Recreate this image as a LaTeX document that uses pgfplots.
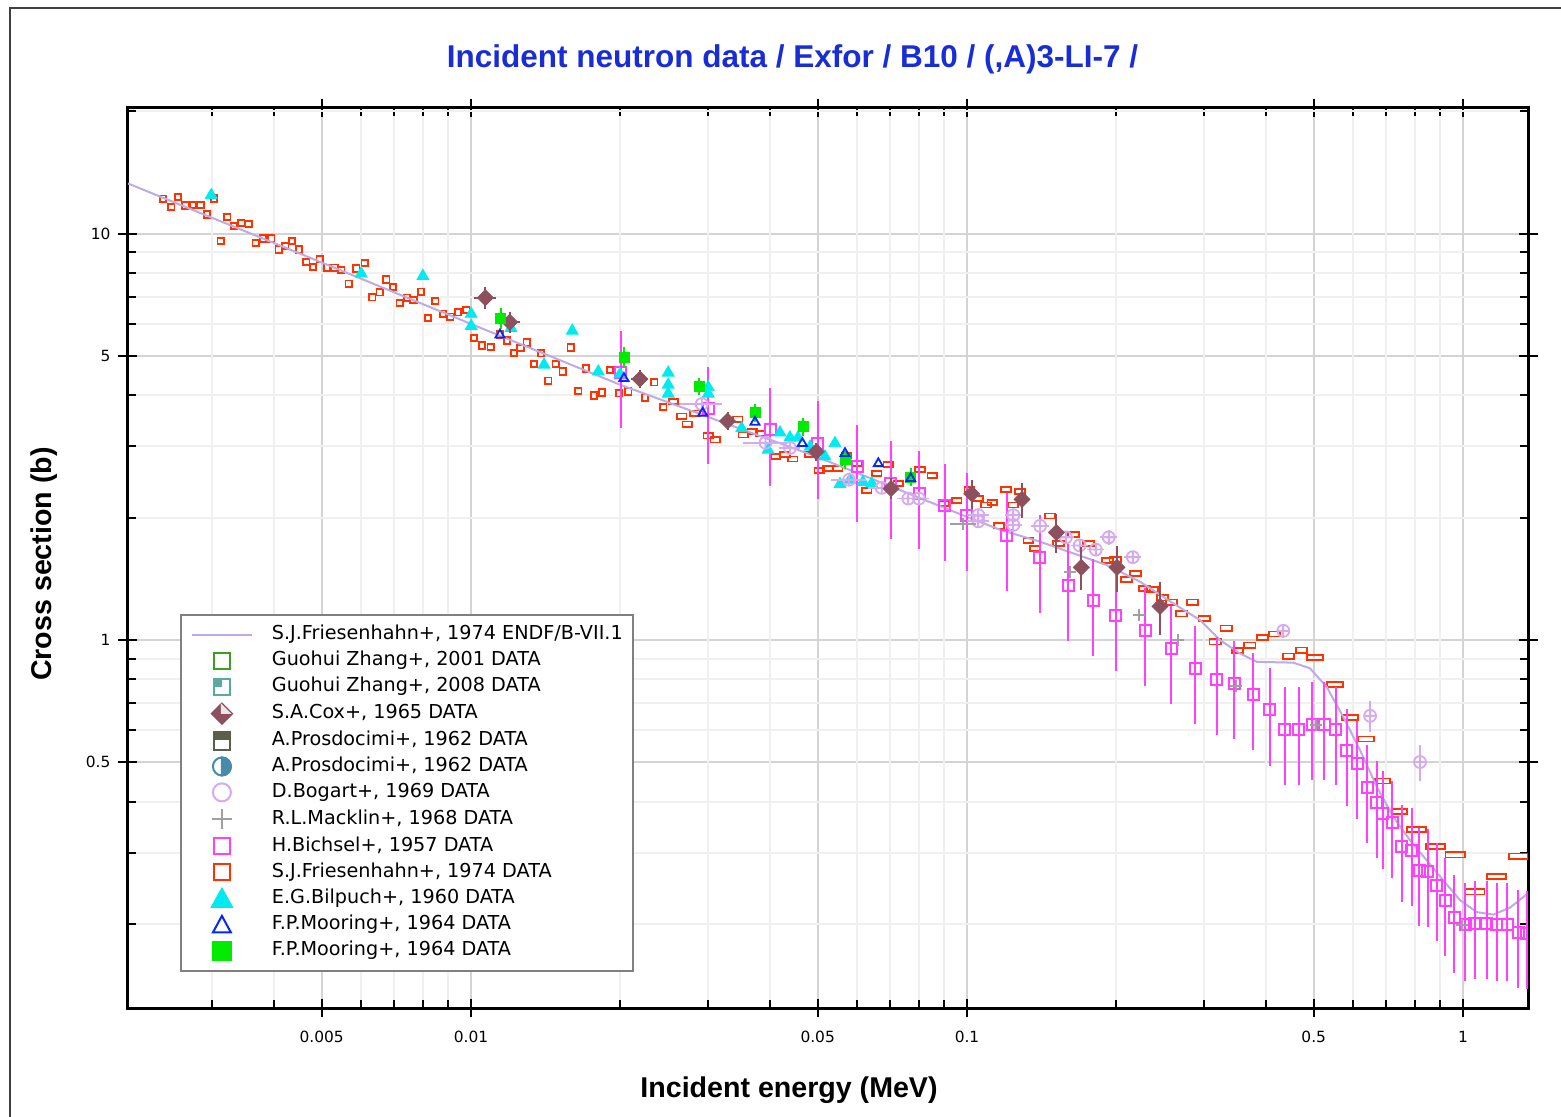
\documentclass[border=0pt]{standalone}
\usepackage{pgfplots}
\usepackage{pgfplotstable}
\pgfplotsset{compat=1.18}
\usepackage{fontspec}
\setmainfont{DejaVu Sans}
\newfontfamily\arialfont{Liberation Sans}

\definecolor{endf}{RGB}{190,170,230}
\definecolor{fries}{RGB}{255,51,0}
\definecolor{bich}{RGB}{255,64,255}
\definecolor{bilp}{RGB}{0,235,240}
\definecolor{moorb}{RGB}{0,40,255}
\definecolor{moorg}{RGB}{0,235,0}
\definecolor{cox}{RGB}{140,80,95}
\definecolor{bog}{RGB}{215,170,240}
\definecolor{mack}{RGB}{160,160,160}
\definecolor{zhA}{RGB}{60,160,30}
\definecolor{zhB}{RGB}{90,170,160}
\definecolor{pros}{RGB}{90,95,75}
\definecolor{prosc}{RGB}{70,140,170}
\definecolor{ttl}{RGB}{25,45,215}

% S.J.Friesenhahn+ 1974 data, split by bin width (drawn as wider boxes)
\pgfplotstableread{
E s
0.002393 12.2
0.002488 11.65
0.002566 12.33
0.002655 11.74
0.002752 11.77
0.002851 11.77
0.002939 11.16
0.003034 12.22
0.003129 9.59
0.003227 11.01
0.003329 10.45
0.003443 10.64
0.003563 10.56
0.003681 9.50
0.003807 9.74
0.003957 9.74
0.004096 9.15
0.004224 9.33
0.004357 9.59
0.004498 9.15
0.004656 8.53
0.004803 8.28
0.004955 8.65
0.005126 8.25
0.005311 8.25
0.005476 8.14
0.005667 7.54
0.005871 8.21
0.006104 8.48
0.006324 6.98
0.006545 7.18
0.006749 7.72
0.006962 7.40
0.007182 6.76
0.00743 6.96
0.007663 6.87
0.007929 7.20
0.00819 6.21
0.008472 6.83
0.008781 6.36
0.009084 6.25
0.009414 6.41
0.009784 6.49
0.01014 5.54
0.01052 5.31
0.01096 5.26
0.01143 5.65
0.01182 5.46
0.0122 5.09
0.01259 5.24
0.01295 5.40
0.01339 4.78
0.01384 5.08
0.01432 4.35
0.01482 4.78
0.01531 4.58
0.01589 5.25
0.01646 4.10
0.01706 4.66
0.0177 4.00
0.01839 4.07
0.01906 4.62
0.01988 4.05
0.02076 4.09
0.02243 3.95
0.02343 4.31
0.02442 3.75
}\friesA
\pgfplotstableread{
E s
0.0256 3.86
0.0266 3.56
0.0273 3.40
0.02829 3.62
0.03009 3.18
0.03109 3.11
0.03449 3.50
0.0354 3.20
0.03691 3.26
0.03838 3.23
0.04113 2.83
0.04295 2.86
0.04453 2.79
0.04826 2.86
0.05038 2.61
0.05237 2.64
0.05486 2.64
0.05721 2.84
0.05991 2.72
0.06276 2.33
0.06577 2.57
0.06939 2.70
0.07268 2.43
0.08038 2.63
0.08511 2.54
0.09 2.17
0.09533 2.21
0.1011 2.35
0.1054 2.23
0.1092 2.15
0.1125 2.18
0.116 1.91
0.1199 2.35
0.124 2.15
0.1279 2.32
0.1329 1.76
0.1371 1.68
0.147 2.02
}\friesB
\pgfplotstableread{
E s
0.1528 1.73
0.1638 1.82
0.1757 1.73
0.1922 1.57
0.1988 1.58
0.2099 1.41
0.2188 1.46
0.2278 1.34
0.2367 1.33
0.2476 1.27
0.2587 1.24
0.2709 1.16
0.2851 1.24
0.3005 1.13
0.3162 0.99
0.3328 1.07
0.3513 0.941
0.372 0.972
0.3938 1.013
0.4165 1.035
0.4444 0.913
0.4729 0.945
}\friesC
\pgfplotstableread{
E s
0.503 0.906
0.5519 0.778
0.5918 0.645
0.6374 0.571
0.6876 0.450
0.7437 0.378
}\friesD
\pgfplotstableread{
E s
0.8065 0.342
0.881 0.310
0.9636 0.296
1.057 0.240
1.169 0.262
1.293 0.294
}\friesE

% H.Bichsel+ 1957
\pgfplotstableread{
E s
0.02003 4.55
0.03009 3.71
0.04008 3.29
0.05006 3.05
0.06009 2.67
0.07019 2.43
0.08013 2.30
0.09028 2.14
0.09986 2.03
0.1202 1.81
0.1402 1.60
0.16 1.36
0.1799 1.25
0.1995 1.15
0.2285 1.055
0.2578 0.954
0.2882 0.853
0.3187 0.802
0.3459 0.782
0.3777 0.733
0.4076 0.673
0.437 0.603
0.4667 0.603
0.4961 0.621
0.5251 0.621
0.5541 0.603
0.583 0.534
0.612 0.497
0.6414 0.434
0.6705 0.398
0.6888 0.374
0.7204 0.355
0.7523 0.310
0.788 0.304
0.8164 0.271
0.8488 0.270
0.8857 0.249
0.9207 0.229
0.96 0.208
1.01 0.199
1.057 0.2006
1.116 0.2006
1.169 0.199
1.228 0.199
1.293 0.191
1.344 0.1895
}\bichsel

% E.G.Bilpuch+ 1960
\pgfplotstableread{
E s
0.002995 12.45
0.006009 7.98
0.008 7.87
0.01001 6.35
0.01001 5.93
0.01204 5.86
0.01404 4.76
0.016 5.77
0.01806 4.58
0.01997 4.51
0.02498 4.55
0.02498 4.25
0.02498 4.04
0.03009 4.19
0.03009 4.04
0.03513 3.32
0.03972 2.94
0.04198 3.24
0.04396 3.15
0.04563 3.15
0.04826 2.99
0.05172 2.83
0.05418 3.05
0.05546 2.42
0.05808 2.48
0.06169 2.45
0.06427 2.43
}\bilpuch

% S.A.Cox+ 1965
\pgfplotstableread{
E s ex ey
0.01069 6.96 0.05 0.06
0.01197 6.06 0.05 0.06
0.02191 4.39 0.04 0.05
0.0329 3.46 0 0.05
0.04969 2.91 0 0.05
0.07028 2.36 0 0.06
0.1022 2.29 0 0.08
0.1291 2.22 0 0.10
0.1514 1.84 0 0.11
0.17 1.51 0 0.12
0.2006 1.51 0 0.13
0.2449 1.21 0 0.15
}\cox

% D.Bogart+ 1969
\pgfplotstableread{
E s ex ey
0.02918 3.81 0.10 0.02
0.03926 3.06 0.10 0.02
0.04396 2.97 0.05 0.02
0.05782 2.48 0.08 0.02
0.0673 2.37 0.06 0.02
0.07616 2.23 0.05 0.02
0.08 2.23 0.05 0.02
0.1054 2.03 0.05 0.03
0.1054 1.96 0.05 0.03
0.124 2.03 0.04 0.03
0.124 1.92 0.04 0.03
0.1404 1.91 0.04 0.03
0.1583 1.79 0.04 0.03
0.1687 1.71 0.04 0.03
0.1818 1.67 0.04 0.03
0.1931 1.79 0.04 0.04
0.2159 1.60 0.04 0.03
0.4342 1.054 0.02 0.04
0.6496 0.651 0.02 0.09
0.819 0.501 0.02 0.10
}\bogart

% R.L.Macklin+ 1968
\pgfplotstableread{
E s ex
0.09829 1.93 0.06
0.1613 1.47 0.02
0.2226 1.15 0.02
0.2667 1.0 0.02
0.3485 0.770 0.02
0.5047 0.618 0.02
0.994 0.1994 0.02
}\macklin

% F.P.Mooring+ 1964 (filled squares)
\pgfplotstableread{
E s ey
0.01149 6.20 0.06
0.02034 4.96 0.06
0.02886 4.21 0.05
0.03737 3.63 0.05
0.04677 3.35 0.05
0.05676 2.78 0.05
0.07701 2.52 0.05
}\mooringG

% F.P.Mooring+ 1964 (open triangles)
\pgfplotstableread{
E s
0.01144 5.64
0.02034 4.41
0.02932 3.62
0.03737 3.44
0.04656 3.05
0.05676 2.88
0.06626 2.72
0.07701 2.50
}\mooringB

\begin{document}
\begin{tikzpicture}
\path[use as bounding box] (0pt,0pt) rectangle (780.5pt,558.5pt);
\draw[line width=0.8pt,black!75] (5pt,0pt) -- (5pt,554.5pt) -- (780.5pt,554.5pt);
\begin{axis}[
    at={(64pt,54.5pt)}, anchor=south west,
    scale only axis, width=700pt, height=450pt,
    xmode=log, ymode=log,
    xmin=0.002035, xmax=1.352, ymin=0.1243, ymax=20.4,
    axis line style={line width=1.5pt},
    tick align=center, major tick length=9.5pt,
    tick style={black, line width=1pt},
    xtick={0.005,0.01,0.05,0.1,0.5,1},
    xticklabels={0.005,0.01,0.05,0.1,0.5,1},
    ytick={0.5,1,5,10},
    yticklabels={0.5,1,5,10},
    extra x ticks={0.003,0.004,0.006,0.007,0.008,0.009,0.02,0.03,0.04,0.06,0.07,0.08,0.09,0.2,0.3,0.4,0.6,0.7,0.8,0.9},
    extra x tick labels={},
    extra y ticks={0.2,0.3,0.4,0.6,0.7,0.8,0.9,2,3,4,6,7,8,9,20},
    extra y tick labels={},
    extra tick style={tick align=inside, major tick length=4.25pt,
        major grid style={draw=black!6, line width=1pt}},
    grid=major, major grid style={draw=black!17, line width=1pt},
    tick label style={font=\fontsize{7.7}{9}\selectfont},
    xticklabel style={yshift=-3.2pt},
    yticklabel style={xshift=-0.5pt},
    clip marker paths=true,
    legend style={at={(0.0371,0.4378)}, anchor=north west,
        draw=black!50, line width=1pt, fill=white,
        inner xsep=5pt, inner ysep=5pt, column sep=9.5pt, row sep=2.95pt,
        font=\fontsize{9.6}{11}\selectfont,
        nodes={inner sep=0pt, text height=7pt, text depth=2pt}},
    legend cell align=left,
]

\addlegendimage{legend image code/.code={\path[draw=none,fill=none] (0pt,-5pt) rectangle (30pt,5pt);
    \draw[endf,line width=1pt] (0pt,0pt) -- (30pt,0pt);}}
\addlegendentry{S.J.Friesenhahn+, 1974 ENDF/B-VII.1}
\addlegendimage{legend image code/.code={\path[draw=none,fill=none] (0pt,-5pt) rectangle (30pt,5pt);
    \draw[zhA,line width=1pt] (11pt,-4pt) rectangle (19pt,4pt);}}
\addlegendentry{Guohui Zhang+, 2001 DATA}
\addlegendimage{legend image code/.code={\path[draw=none,fill=none] (0pt,-5pt) rectangle (30pt,5pt);
    \draw[zhB,line width=1pt] (11pt,-4pt) rectangle (19pt,4pt);
    \fill[zhB] (11pt,0.5pt) rectangle (14.5pt,4pt);}}
\addlegendentry{Guohui Zhang+, 2008 DATA}
\addlegendimage{legend image code/.code={\path[draw=none,fill=none] (0pt,-5pt) rectangle (30pt,5pt);
    \fill[cox] (15pt,5pt) -- (20pt,0pt) -- (15pt,-5pt) -- (10pt,0pt) -- cycle;
    \fill[white!85!cox] (15pt,4pt) -- (18.6pt,0.4pt) -- (15pt,0.4pt) -- cycle;}}
\addlegendentry{S.A.Cox+, 1965 DATA}
\addlegendimage{legend image code/.code={\path[draw=none,fill=none] (0pt,-5pt) rectangle (30pt,5pt);
    \fill[pros] (11pt,1pt) rectangle (19pt,4.5pt);
    \draw[pros,line width=1pt] (11pt,-4.5pt) rectangle (19pt,4.5pt);}}
\addlegendentry{A.Prosdocimi+, 1962 DATA}
\addlegendimage{legend image code/.code={\path[draw=none,fill=none] (0pt,-5pt) rectangle (30pt,5pt);
    \fill[prosc] (15pt,-4.5pt) arc (-90:90:4.5pt) -- cycle;
    \draw[prosc,line width=1pt] (15pt,0pt) circle (4.5pt);}}
\addlegendentry{A.Prosdocimi+, 1962 DATA}
\addlegendimage{legend image code/.code={\path[draw=none,fill=none] (0pt,-5pt) rectangle (30pt,5pt);
    \draw[bog,line width=1pt,fill=none] (15pt,0pt) circle (4.5pt);}}
\addlegendentry{D.Bogart+, 1969 DATA}
\addlegendimage{legend image code/.code={\path[draw=none,fill=none] (0pt,-5pt) rectangle (30pt,5pt);
    \draw[mack,line width=1pt] (10pt,0pt) -- (20pt,0pt) (15pt,-5pt) -- (15pt,5pt);}}
\addlegendentry{R.L.Macklin+, 1968 DATA}
\addlegendimage{legend image code/.code={\path[draw=none,fill=none] (0pt,-5pt) rectangle (30pt,5pt);
    \draw[bich,line width=1pt,fill=none] (11pt,-4pt) rectangle (19pt,4pt);}}
\addlegendentry{H.Bichsel+, 1957 DATA}
\addlegendimage{legend image code/.code={\path[draw=none,fill=none] (0pt,-5pt) rectangle (30pt,5pt);
    \draw[fries,line width=1pt,fill=none] (11pt,-4pt) rectangle (19pt,4pt);}}
\addlegendentry{S.J.Friesenhahn+, 1974 DATA}
\addlegendimage{legend image code/.code={\path[draw=none,fill=none] (0pt,-5pt) rectangle (30pt,5pt);
    \fill[bilp] (10pt,-4pt) -- (20pt,-4pt) -- (15pt,5pt) -- cycle;}}
\addlegendentry{E.G.Bilpuch+, 1960 DATA}
\addlegendimage{legend image code/.code={\path[draw=none,fill=none] (0pt,-5pt) rectangle (30pt,5pt);
    \draw[moorb,line width=1pt,fill=none] (10.5pt,-3.8pt) -- (19.5pt,-3.8pt) -- (15pt,4.5pt) -- cycle;}}
\addlegendentry{F.P.Mooring+, 1964 DATA}
\addlegendimage{legend image code/.code={\path[draw=none,fill=none] (0pt,-5pt) rectangle (30pt,5pt);
    \fill[moorg] (10.5pt,-4.5pt) rectangle (19.5pt,4.5pt);}}
\addlegendentry{F.P.Mooring+, 1964 DATA}

% S.J.Friesenhahn+ data
\addplot[only marks, mark=square, mark size=1.6pt, mark options={draw=fries, line width=0.9pt}, forget plot] table[x=E,y=s] {\friesA};
\addplot[only marks, mark=square, mark size=1.6pt, mark options={draw=fries, line width=0.9pt, xscale=1.5, yscale=0.8}, forget plot] table[x=E,y=s] {\friesB};
\addplot[only marks, mark=square, mark size=1.6pt, mark options={draw=fries, line width=0.9pt, xscale=1.75, yscale=0.8}, forget plot] table[x=E,y=s] {\friesC};
\addplot[only marks, mark=square, mark size=1.6pt, mark options={draw=fries, line width=0.9pt, xscale=2.4, yscale=0.8}, forget plot] table[x=E,y=s] {\friesD};
\addplot[only marks, mark=square, mark size=1.6pt, mark options={draw=fries, line width=0.9pt, xscale=3.0, yscale=0.8}, forget plot] table[x=E,y=s] {\friesE};

% ENDF/B-VII.1 evaluation
\addplot[endf, line width=1pt, no marks, forget plot] coordinates {
(0.002035,13.3) (0.005,8.5) (0.01,6.0) (0.02,4.25) (0.05,2.82) (0.1,2.01)
(0.1165,1.87) (0.1404,1.746) (0.1638,1.635) (0.1913,1.530) (0.2233,1.392)
(0.2606,1.231) (0.295,1.12) (0.3236,1.0) (0.3551,0.927) (0.3838,0.884)
(0.4548,0.880) (0.4915,0.852) (0.531,0.767) (0.5736,0.647) (0.6199,0.536)
(0.6705,0.435) (0.7237,0.367) (0.7818,0.322) (0.8449,0.287) (0.9128,0.256)
(0.9862,0.229) (1.066,0.214) (1.151,0.211) (1.244,0.2196) (1.352,0.238)
};

% H.Bichsel+
\addplot[only marks, mark=square, mark size=2.75pt, mark options={draw=bich, line width=1pt}, forget plot,
    error bars/.cd, y dir=both, y explicit relative, error mark=none,
    error bar style={bich, line width=1pt}]
    table[x=E,y=s,y error expr=0.27] {\bichsel};

% E.G.Bilpuch+
\addplot[only marks, mark=triangle*, mark size=3.4pt, mark options={draw=bilp, fill=bilp}, forget plot]
    table[x=E,y=s] {\bilpuch};

% D.Bogart+
\addplot[only marks, mark=oplus, mark size=3pt, mark options={draw=bog, line width=0.9pt}, forget plot,
    error bars/.cd, x dir=both, x explicit relative, y dir=both, y explicit relative,
    error mark=none, error bar style={bog, line width=0.9pt}]
    table[x=E,y=s,x error=ex,y error=ey] {\bogart};

% R.L.Macklin+
\addplot[only marks, mark=+, mark size=3pt, mark options={draw=mack, line width=1pt}, forget plot,
    error bars/.cd, x dir=both, x explicit relative, error mark=none,
    error bar style={mack, line width=1pt}]
    table[x=E,y=s,x error=ex] {\macklin};

% S.A.Cox+
\addplot[only marks, mark=square*, mark size=2.8pt, mark options={draw=cox, fill=cox, rotate=45}, forget plot,
    error bars/.cd, x dir=both, x explicit relative, y dir=both, y explicit relative,
    error mark=none, error bar style={cox, line width=1pt}]
    table[x=E,y=s,x error=ex,y error=ey] {\cox};

% F.P.Mooring+ (filled squares)
\addplot[only marks, mark=square*, mark size=2.5pt, mark options={draw=moorg, fill=moorg}, forget plot,
    error bars/.cd, y dir=both, y explicit relative, error mark=none,
    error bar style={moorg, line width=1pt}]
    table[x=E,y=s,y error=ey] {\mooringG};

% F.P.Mooring+ (open triangles)
\addplot[only marks, mark=triangle, mark size=2.6pt, mark options={draw=moorb, line width=0.9pt}, forget plot]
    table[x=E,y=s] {\mooringB};

\end{axis}
\node[anchor=base, text=ttl, font=\arialfont\bfseries\fontsize{15.75}{18}\selectfont] at (396.25pt,524.5pt)
    {Incident neutron data / Exfor / B10 / (,A)3-LI-7 /};
\node[anchor=base, font=\arialfont\bfseries\fontsize{14.3}{17}\selectfont] at (394.5pt,9.5pt)
    {Incident energy (MeV)};
\node[anchor=center, rotate=90, font=\arialfont\bfseries\fontsize{14.3}{17}\selectfont] at (22pt,276.5pt)
    {Cross section (b)};
\end{tikzpicture}
\end{document}
